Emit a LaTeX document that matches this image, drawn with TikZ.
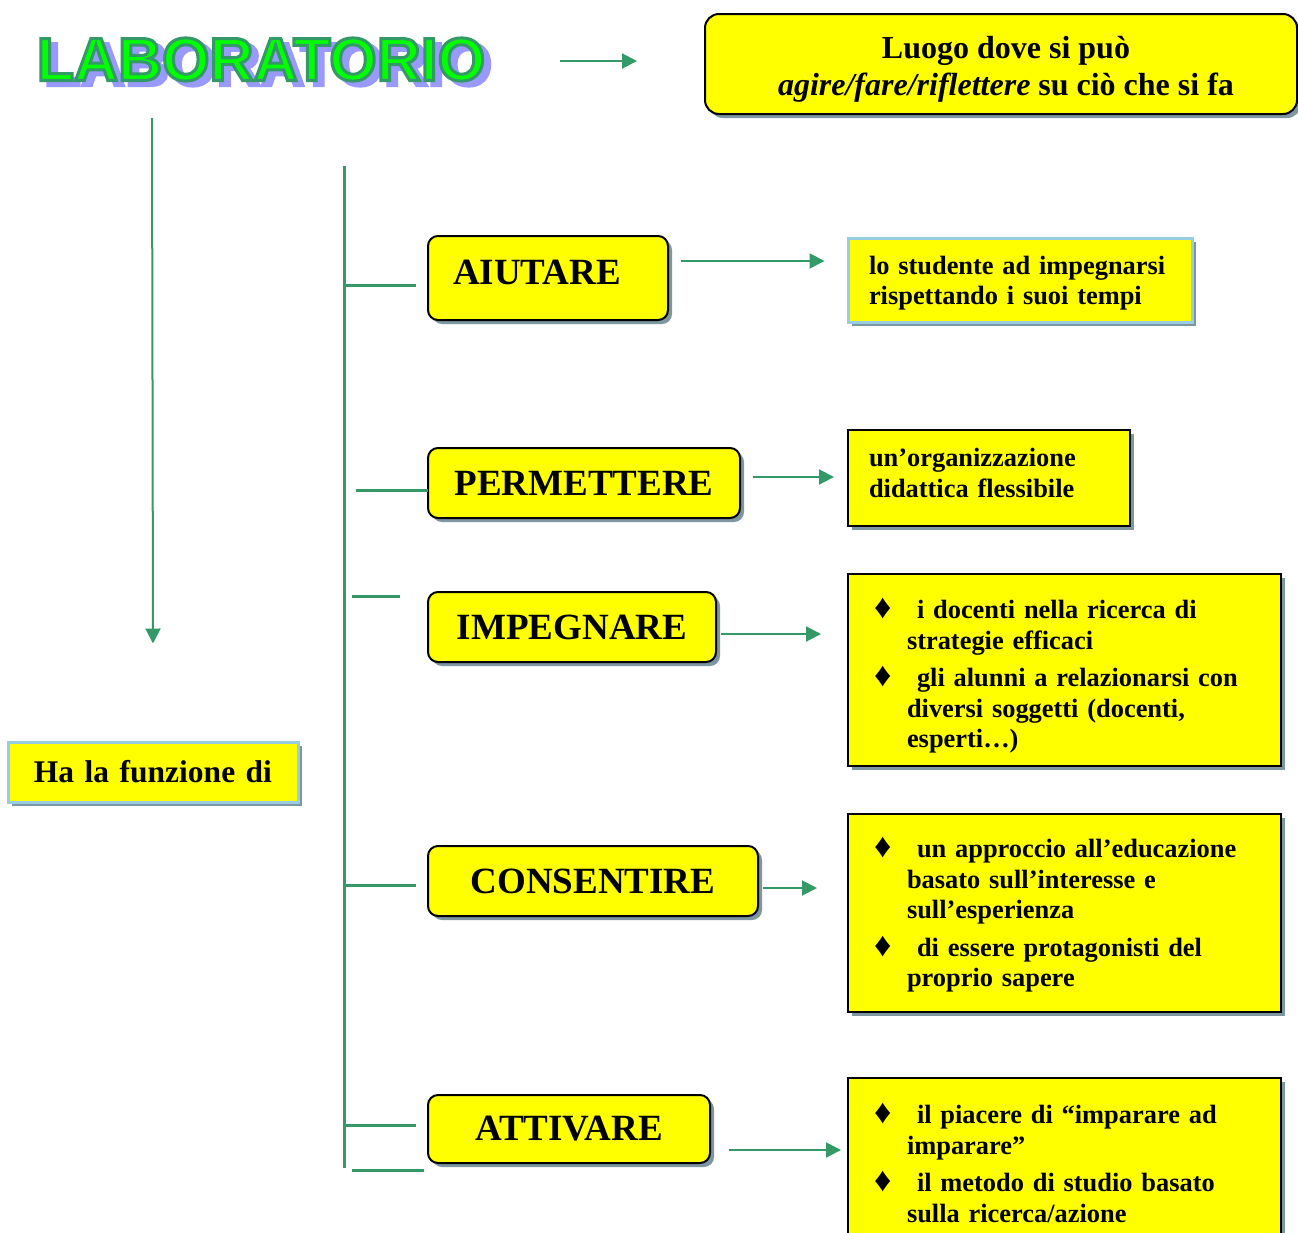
\documentclass[tikz,border=0pt]{standalone}
\usepackage{fontspec}
\setmainfont{Liberation Serif}
\newfontfamily\labfont{Liberation Sans}
\usetikzlibrary{shadows, arrows.meta}
\definecolor{boxyellow}{RGB}{255,255,0}
\definecolor{linegreen}{RGB}{51,153,102}
\definecolor{labgreen}{RGB}{0,255,0}
\definecolor{labshadow}{RGB}{153,153,255}
\definecolor{edgeblue}{RGB}{150,205,225}
\definecolor{shadowgray}{RGB}{125,150,160}
\newcommand\strokedtext[2]{\special{pdf:literal direct q #1 2 Tr 3 w}#2\special{pdf:literal direct Q}}
\newcommand\dia{\makebox[43pt][l]{\raisebox{0pt}[0pt][0pt]{\fontsize{34}{30}\selectfont ♦}}}

\begin{document}
\begin{tikzpicture}[x=1pt, y=-1pt,
	labtext/.style={inner sep=0pt, font=\labfont\bfseries\fontsize{61}{61}\selectfont},
	boxshadow/.style={drop shadow={shadow xshift=4pt, shadow yshift=-4pt, fill=shadowgray, opacity=1}},
	capbox/.style={draw=black, line width=2pt, fill=boxyellow, rounded corners=10pt, boxshadow,
		inner sep=0pt, minimum height=70pt, font=\bfseries\fontsize{37}{40}\selectfont},
	textbox/.style={draw=black, line width=2pt, fill=boxyellow, boxshadow,
		inner xsep=21pt, inner ysep=0pt, align=left, font=\bfseries\fontsize{26.4}{30.5}\selectfont},
	listbox/.style={textbox, inner xsep=26pt},
	blueedge/.style={draw=edgeblue, line width=3pt},
	flow/.style={draw=linegreen, line width=2pt, -{Triangle[length=15pt, width=15pt]}},
	trunk/.style={draw=linegreen, line width=3pt},
	]
	\useasboundingbox (0,0) rectangle (1298,1232);

	\node[labtext] (lab) at (261,62) {%
		\rlap{\kern7pt\raisebox{-5pt}{\color{labshadow}\strokedtext{0.6 0.6 1 RG}{LABORATORIO}}}%
		{\color{labgreen}\strokedtext{0.2 0.6 0.4 RG}{LABORATORIO}}};

	\node[
	capbox, rounded corners=14pt,
	minimum width=592pt, minimum height=100pt,
	font=\bfseries\fontsize{32}{37}\selectfont,
	] (title) at (1001,64) {\raisebox{-5.5pt}[\height][\depth]{\begin{tabular}{@{}c@{}}
		\hspace*{10pt}Luogo dove si può\\
		\hspace*{10pt}\textit{agire/fare/riflettere} su ciò che si fa
		\end{tabular}}};

	\node[
	textbox, blueedge,
	minimum width=290pt, minimum height=60pt,
	text width=248pt, align=center, font=\bfseries\fontsize{31.5}{36}\selectfont,
	] (funzione) at (153,772) {Ha la funzione di};

	\node[capbox, minimum width=240pt, minimum height=84pt, text width=190pt, inner xsep=25pt, align=left] (aiutare) at (548,278) {\raisebox{6pt}[\height][\depth]{AIUTARE}};
	\node[capbox, minimum width=312pt] (permettere) at (584,483) {PERMETTERE};
	\node[capbox, minimum width=288pt] (impegnare) at (572,627) {IMPEGNARE};
	\node[capbox, minimum width=330pt] (consentire) at (593,881) {CONSENTIRE};
	\node[capbox, minimum width=282pt, minimum height=68pt] (attivare) at (569,1129) {ATTIVARE};

	\node[
	textbox, blueedge,
	minimum width=344pt, minimum height=84pt, text width=302pt,
	] (studente) at (1020,280) {\rule{0pt}{24.5pt}lo studente ad impegnarsi\\rispettando i suoi tempi};

	\node[
	textbox,
	minimum width=282pt, minimum height=96pt, text width=240pt,
	] (organizzazione) at (989,478) {un’organizzazione\\didattica flessibile\rule[-10pt]{0pt}{0pt}};

	\node[
	listbox,
	minimum width=433pt, minimum height=192pt, text width=381pt,
	] (docenti) at (1064.5,670) {%
		\rule{0pt}{32pt}\dia i docenti nella ricerca di\\
		\hspace*{33pt}strategie efficaci\\[7pt]
		\dia gli alunni a relazionarsi con\\
		\hspace*{33pt}diversi soggetti (docenti,\\
		\hspace*{33pt}esperti…)};

	\node[
	listbox,
	minimum width=433pt, minimum height=198pt, text width=381pt,
	] (approccio) at (1064.5,913) {%
		\rule{0pt}{24.5pt}\dia un approccio all’educazione\\
		\hspace*{33pt}basato sull’interesse e\\
		\hspace*{33pt}sull’esperienza\\[7pt]
		\dia di essere protagonisti del\\
		\hspace*{33pt}proprio sapere};

	\node[
	listbox,
	minimum width=433pt, minimum height=172pt, text width=381pt,
	] (piacere) at (1064.5,1164) {%
		\dia il piacere di “imparare ad\\
		\hspace*{33pt}imparare”\\[7pt]
		\dia il metodo di studio basato\\
		\hspace*{33pt}sulla ricerca/azione};

	\coordinate (lab-out) at (560,61);
	\coordinate (lab-down) at (152,118);
	\draw[flow] (lab-out) -- ([xshift=-67pt, yshift=3pt]title.west);
	\draw[flow] (lab-down) -- ([yshift=97pt]funzione.north);

	\draw[trunk] (344,166) -- (344,1168);
	\draw[trunk] (344,285) -- (416,285);
	\draw[trunk] (356,490) -- (428,490);
	\draw[trunk] (352,596) -- (400,596);
	\draw[trunk] (344,885) -- (416,885);
	\draw[trunk] (344,1125) -- (416,1125);
	\draw[trunk] (352,1170) -- (424,1170);

	\draw[flow] ([xshift=12pt, yshift=17pt]aiutare.east) -- ([xshift=-22pt, yshift=19pt]studente.west);
	\draw[flow] ([xshift=12pt, yshift=6pt]permettere.east) -- ([xshift=-13pt, yshift=1pt]organizzazione.west);
	\draw[flow] ([xshift=4pt, yshift=-7pt]impegnare.east) -- ([xshift=-26pt, yshift=36pt]docenti.west);
	\draw[flow] ([xshift=4pt, yshift=-7pt]consentire.east) -- ([xshift=-30pt, yshift=25pt]approccio.west);
	\draw[flow] ([xshift=18pt, yshift=-21pt]attivare.east) -- ([xshift=-6pt, yshift=14pt]piacere.west);
\end{tikzpicture}
\end{document}
